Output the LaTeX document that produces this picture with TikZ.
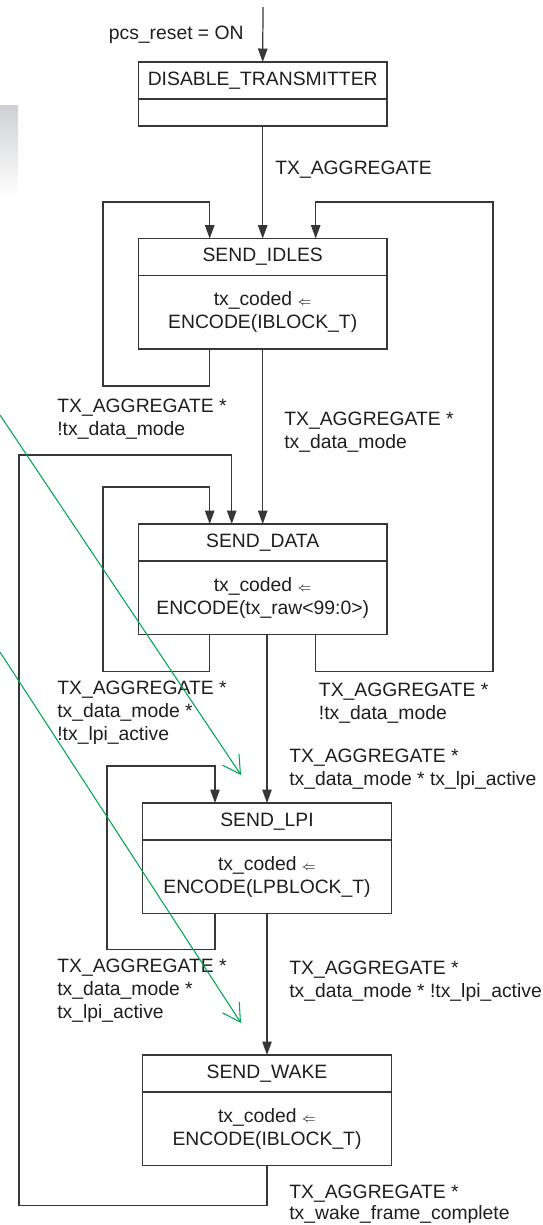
\documentclass[tikz,border=0pt]{standalone}
\usepackage{fontspec}
\setmainfont{Liberation Sans}
\usetikzlibrary{
    arrows.meta,
    positioning,
    calc
}
\definecolor{linegray}{RGB}{55,55,55}
\definecolor{textgray}{RGB}{30,30,30}
\definecolor{markgreen}{RGB}{0,166,81}
\definecolor{fadegray}{RGB}{206,209,212}
\tikzset{
    % --- State name compartment ---
    state title/.style = {
        rectangle, draw=linegray, line width=0.7pt,
        outer sep=0pt, inner sep=0pt,
        minimum width=4.97cm, minimum height=0.74cm
    },
    % --- State action compartment ---
    state body/.style = {
        state title, minimum height=1.47cm, align=center
    },
    % --- Transition condition text ---
    cond/.style = {
        anchor=north west, align=left, inner sep=0pt
    },
    % --- Transition arrow ---
    trans/.style = {
        draw=linegray, line width=0.7pt,
        -{Triangle[length=0.27cm,width=0.19cm]}
    },
    % --- Green overlay arrow ---
    mark arrow/.style = {
        draw=markgreen, line width=0.6pt,
        -{Straight Barb[length=0.35cm,width=0.4cm]}
    }
}
\newcommand{\assign}{{\scriptsize$\Leftarrow$}}

\begin{document}
\begin{tikzpicture}[
    x=0.02cm, y=-0.02cm,
    font=\fontsize{11}{13}\selectfont, text=textgray
]
\useasboundingbox (0,0) rectangle (543,1225);

% ---------------------------------------------------------
% Faded panel (left edge)
% ---------------------------------------------------------
\shade[top color=fadegray, bottom color=white] (0,105) rectangle (18,197);

% ---------------------------------------------------------
% States
% ---------------------------------------------------------
\node[state title] (DisTitle) at (262.7,80.5) {DISABLE\_TRANSMITTER};
\node[state body, minimum height=0.54cm, below=0pt of DisTitle] (DisBody) {};

\node[state title] (IdlesTitle) at (262.7,257) {SEND\_IDLES};
\node[state body, below=0pt of IdlesTitle] (IdlesBody) {%
    tx\_coded \assign\\ENCODE(IBLOCK\_T)};

\node[state title] (DataTitle) at (262.7,542.5) {SEND\_DATA};
\node[state body, below=0pt of DataTitle] (DataBody) {%
    tx\_coded \assign\\ENCODE(tx\_raw<99:0>)};

\node[state title] (LpiTitle) at (267,821.5) {SEND\_LPI};
\node[state body, below=0pt of LpiTitle] (LpiBody) {%
    tx\_coded \assign\\ENCODE(LPBLOCK\_T)};

\node[state title] (WakeTitle) at (267,1073.5) {SEND\_WAKE};
\node[state body, below=0pt of WakeTitle] (WakeBody) {%
    tx\_coded \assign\\ENCODE(IBLOCK\_T)};

% ---------------------------------------------------------
% Reset entry
% ---------------------------------------------------------
\coordinate (ResetIn) at (263,7);
\draw[trans] (ResetIn) -- (DisTitle.north);
\node[anchor=east, inner sep=0pt] (ResetLbl) at (244,35) {pcs\_reset = ON};

\draw[trans] (DisBody.south) -- (IdlesTitle.north);
\node[cond] (AggLbl) at (275,161) {TX\_AGGREGATE};

% ---------------------------------------------------------
% SEND_IDLES transitions
% ---------------------------------------------------------
\draw[trans] ($(IdlesBody.south)+(-53,0)$) -- ++(0,37) -| (103,202)
    -| ($(IdlesTitle.north)+(-53,0)$);
\node[cond] (IdlesLoopLbl) at (57,399) {TX\_AGGREGATE *\\!tx\_data\_mode};

\draw[trans] (IdlesBody.south) -- (DataTitle.north);
\node[cond] (IdlesDataLbl) at (284,411.5) {TX\_AGGREGATE *\\tx\_data\_mode};

% ---------------------------------------------------------
% SEND_DATA transitions
% ---------------------------------------------------------
\draw[trans] ($(DataBody.south)+(-53,0)$) -- ++(0,37) -| (103,487)
    -| ($(DataTitle.north)+(-53,0)$);
\node[cond] (DataLoopLbl) at (57,681) {TX\_AGGREGATE *\\tx\_data\_mode *\\!tx\_lpi\_active};

\draw[trans] ($(DataBody.south)+(53,0)$) -- ++(0,37) -| (493,202)
    -| ($(IdlesTitle.north)+(53,0)$);
\node[cond] (DataIdlesLbl) at (318.6,683) {TX\_AGGREGATE *\\!tx\_data\_mode};

\draw[trans] (DataBody.south -| LpiTitle.north) -- (LpiTitle.north);
\node[cond] (DataLpiLbl) at (289,749) {TX\_AGGREGATE *\\tx\_data\_mode * tx\_lpi\_active};

% ---------------------------------------------------------
% SEND_LPI transitions
% ---------------------------------------------------------
\draw[trans] ($(LpiBody.south)+(-52,0)$) -- ++(0,36) -| (107,766)
    -| ($(LpiTitle.north)+(-52,0)$);
\node[cond] (LpiLoopLbl) at (57,959) {TX\_AGGREGATE *\\tx\_data\_mode *\\tx\_lpi\_active};

\draw[trans] (LpiBody.south) -- (WakeTitle.north);
\node[cond] (LpiWakeLbl) at (289,961) {TX\_AGGREGATE *\\tx\_data\_mode * !tx\_lpi\_active};

% ---------------------------------------------------------
% SEND_WAKE transition
% ---------------------------------------------------------
\draw[trans] (WakeBody.south) -- ++(0,40) -| (19,455)
    -| ($(DataTitle.north)+(-31,0)$);
\node[cond] (WakeDataLbl) at (289,1185) {TX\_AGGREGATE *\\[-1.5pt]tx\_wake\_frame\_complete};

% ---------------------------------------------------------
% Green overlay arrows
% ---------------------------------------------------------
\coordinate (MarkA) at (0,415);
\coordinate (MarkATip) at (241,775);
\coordinate (MarkB) at (0,652);
\coordinate (MarkBTip) at (241,1023);
\draw[mark arrow] (MarkA) -- (MarkATip);
\draw[mark arrow] (MarkB) -- (MarkBTip);

\end{tikzpicture}
\end{document}
